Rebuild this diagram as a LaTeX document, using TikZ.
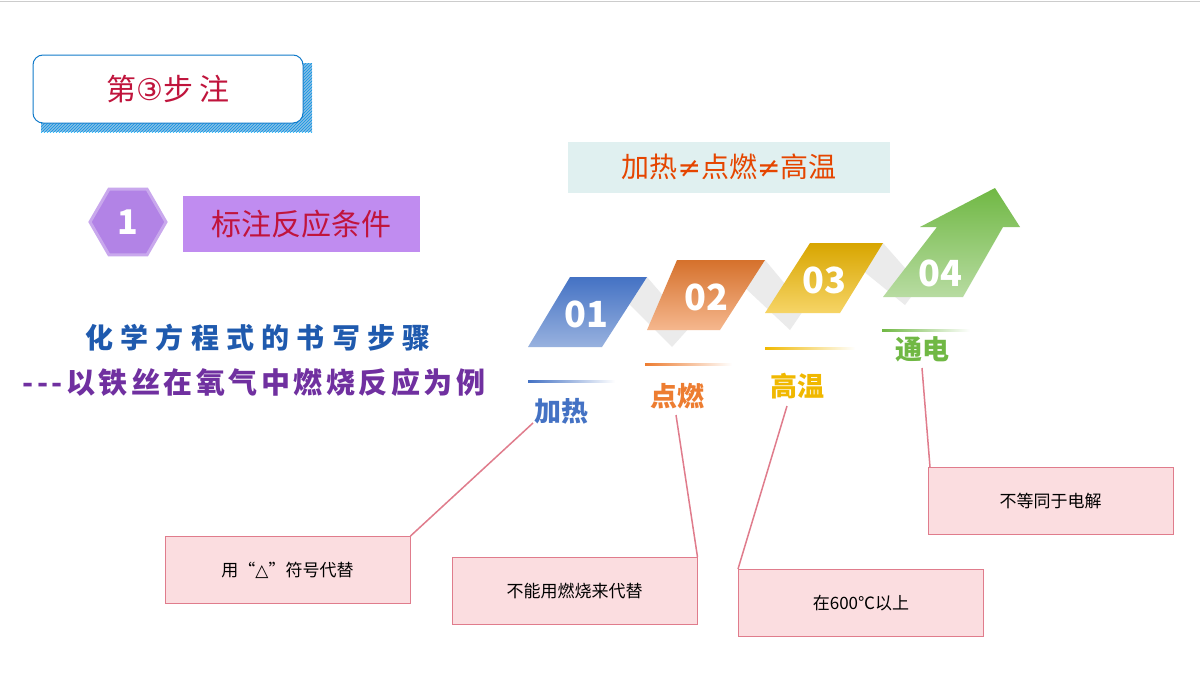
\documentclass[tikz,border=0pt]{standalone}
\usepackage{fontspec}
\setmainfont{Noto Sans CJK SC}
\newfontfamily\djv{DejaVu Sans}
\usetikzlibrary{shapes.geometric,patterns}
\definecolor{dred}{HTML}{C0143C}
\definecolor{c1}{HTML}{4472C4}
\definecolor{c2}{HTML}{ED7D31}
\definecolor{c3}{HTML}{F0B800}
\definecolor{c4}{HTML}{70B844}
\definecolor{pinkf}{HTML}{FBDDE0}
\definecolor{pinkd}{HTML}{E07C8C}
\definecolor{purp}{HTML}{C08CF0}
\definecolor{hexp}{HTML}{B283E6}
\definecolor{tblue}{HTML}{1F5AAE}
\definecolor{tpurp}{HTML}{7030A0}
\tikzset{
 call/.style={draw=pinkd,fill=pinkf,line width=1pt,minimum width=245pt,minimum height=67pt,font=\fontsize{17}{20}\selectfont},
 lead/.style={draw=pinkd,line width=1.5pt},
 num/.style={text=white,font=\fontsize{36}{38}\selectfont\bfseries},
 lab/.style={font=\fontsize{27}{29}\selectfont\bfseries},
 band/.style={fill=black!8}
}
\begin{document}
\begin{tikzpicture}[x=1pt,y=-1pt]
\useasboundingbox (0,0) rectangle (1200,675);
\fill[white] (0,0) rectangle (1200,675);
\draw[black!20] (0,1) -- (1200,1);
% title box
\fill[pattern=north east lines,pattern color=cyan!70!blue] (41,63) rectangle (312,132);
\fill[cyan!60!blue,opacity=0.5] (41,63) rectangle (312,132);
\node[draw=cyan!60!blue,fill=white,rounded corners=10pt,line width=1pt,minimum width=270pt,minimum height=68pt,text=dred,font=\fontsize{30}{32}\selectfont] (title) at (168,89) {第{\djv ③}步 注};
% hexagon
\node[regular polygon,regular polygon sides=6,draw=hexp!70,line width=3pt,fill=hexp,minimum size=76pt] (hex) at (128,222) {};
\node[text=white,font=\fontsize{34}{36}\selectfont\bfseries] (one) at (hex) {1};
\node[fill=purp,minimum width=237pt,minimum height=56pt,text=dred,font=\fontsize{30}{32}\selectfont,anchor=west] (cond) at (183,224) {标注反应条件};
% equation banner
\node[fill=teal!12,minimum width=322pt,minimum height=51pt,text=orange!60!red!90!black,font=\fontsize{28}{30}\selectfont] (neq) at (729,167) {加热{\djv ≠}点燃{\djv ≠}高温};
% left texts
\node[text=tblue,font=\fontsize{28}{30}\selectfont\bfseries\addfontfeatures{LetterSpace=26}] (t1) at (258,338) {化学方程式的书写步骤};
\node[text=tpurp,font=\fontsize{29}{31}\selectfont\bfseries\addfontfeatures{LetterSpace=12}] (t2) at (254,382) {{-}{-}{-}以铁丝在氧气中燃烧反应为例};
% grey bands
\fill[band] (647,277) -- (690,327) -- (672,347) -- (628,303) -- cycle;
\fill[band] (765,260) -- (805,308) -- (790,330) -- (742,285) -- cycle;
\fill[band] (883,243) -- (920,285) -- (905,305) -- (862,270) -- cycle;
% parallelograms
\shade[top color=c1,bottom color=c1!55] (570,277) -- (647,277) -- (602,347) -- (528,347) -- cycle;
\shade[top color=c2!90!black,bottom color=c2!55] (677,260) -- (765,260) -- (720,330) -- (647,330) -- cycle;
\shade[top color=c3!90!black,bottom color=c3!60] (810,243) -- (883,243) -- (840,313) -- (765,313) -- cycle;
\shade[top color=c4,bottom color=c4!50] (883,297) -- (937,227) -- (920,227) -- (995,188) -- (1020,227) -- (1003,227) -- (963,297) -- cycle;
\node[num] (n1) at (586,314) {01};
\node[num] (n2) at (706,297) {02};
\node[num] (n3) at (824,280) {03};
\node[num] (n4) at (940,273) {04};
% labels
\shade[left color=c1,right color=white] (528,380) rectangle (615,382);
\shade[left color=c2,right color=white] (645,363) rectangle (732,365);
\shade[left color=c3,right color=white] (765,347) rectangle (855,349);
\shade[left color=c4,right color=white] (882,329) rectangle (970,331);
\node[lab,text=c1] (l1) at (561,411) {加热};
\node[lab,text=c2] (l2) at (677,396) {点燃};
\node[lab,text=c3] (l3) at (797,386) {高温};
\node[lab,text=c4] (l4) at (922,349) {通电};
% callouts
\node[call] (b1) at (287.5,570) {用“{\djv △}”符号代替};
\node[call] (b2) at (574.5,591) {不能用燃烧来代替};
\node[call] (b3) at (861,603) {在600℃以上};
\node[call] (b4) at (1050.5,501) {不等同于电解};
\draw[lead] (533,423) -- (b1.north east);
\draw[lead] (676,415) -- (b2.north east);
\draw[lead] (787,406) -- (b3.north west);
\draw[lead] (922,368) -- (930,467);
\end{tikzpicture}
\end{document}
